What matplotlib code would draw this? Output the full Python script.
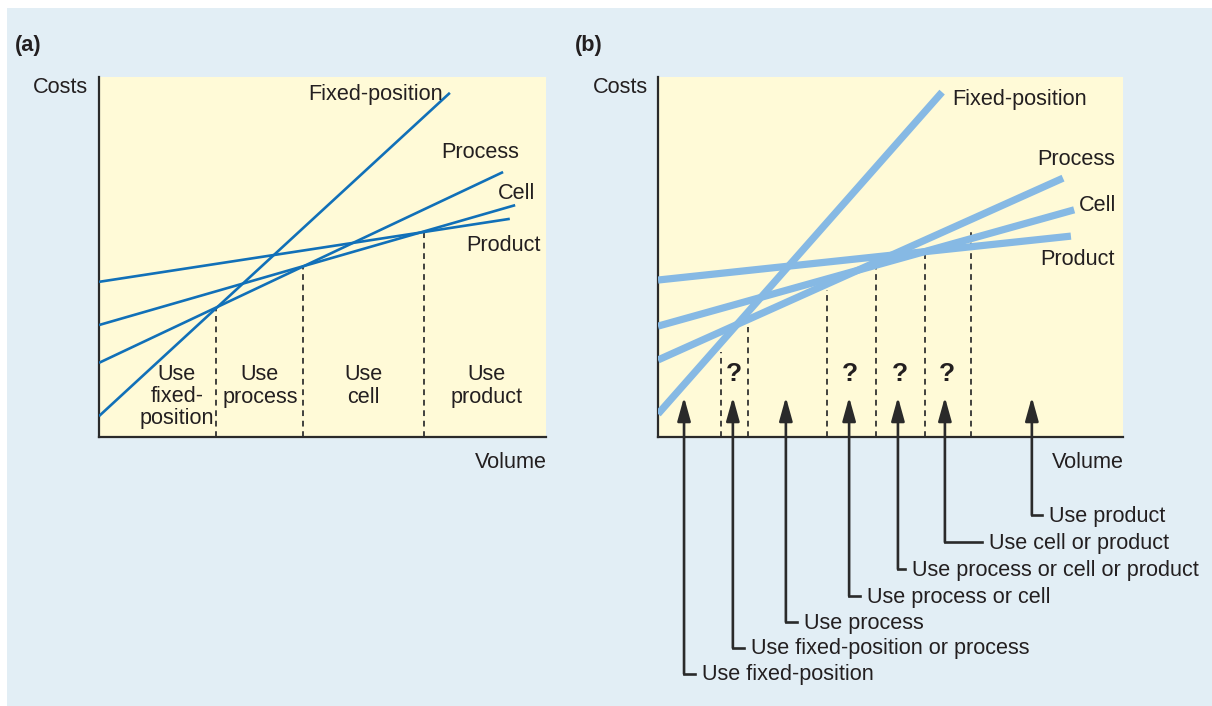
import matplotlib
matplotlib.use("Agg")
import matplotlib.pyplot as plt
from matplotlib.patches import Rectangle

plt.rcParams['font.family'] = ['Liberation Sans', 'DejaVu Sans']

# ---------------- data (volume 0-100, cost 0-100) ----------------
line_names = ["Fixed-position", "Process", "Cell", "Product"]

# panel (a): straight cost lines, start/end points
a_x0 = [0, 0, 0, 0]
a_y0 = [5.8, 20.6, 31.1, 43.1]
a_x1 = [78.5, 90.4, 93.1, 91.9]
a_y1 = [95.6, 73.6, 64.4, 60.6]
a_label_x = [77.0, 76.5, 89.3, 82.1]
a_label_y = [95.2, 79.1, 67.7, 53.3]
a_label_ha = ["right", "left", "left", "left"]

a_cut_x = [26.2, 45.6, 72.7]
a_cut_top = [35.8, 47.8, 57.2]

a_regions = ["Use\nfixed-\nposition", "Use\nprocess", "Use\ncell", "Use\nproduct"]
a_region_x = [17.4, 36.0, 59.1, 86.8]
a_region_y = [11.2, 14.2, 14.2, 14.2]

# panel (b)
b_x0 = [0, 0, 0, 0]
b_y0 = [6.4, 21.4, 30.8, 43.6]
b_x1 = [61.1, 87.1, 89.5, 88.8]
b_y1 = [95.8, 71.9, 63.1, 55.8]
b_label_x = [63.2, 81.5, 90.5, 82.2]
b_label_y = [93.8, 77.2, 64.4, 49.4]

b_cut_x = [13.5, 19.4, 36.3, 46.9, 57.4, 67.3]
b_cut_top = [23.6, 30.6, 40.8, 46.9, 50.6, 58.1]

q_x = [16.3, 41.3, 52.0, 62.2]
q_y = 17.6

choices = ["Use fixed-position", "Use fixed-position or process", "Use process",
           "Use process or cell", "Use process or cell or product",
           "Use cell or product", "Use product"]
arrow_x = [5.6, 16.1, 27.5, 41.1, 51.6, 61.7, 80.4]
arrow_tip = 11.1
choice_y = [-65.8, -58.6, -51.4, -44.2, -36.7, -29.2, -21.7]
choice_seg_end = [8.0, 18.5, 29.9, 43.4, 53.1, 69.7, 82.6]

# ---------------- style ----------------
W, H = 1212, 706
BG = '#e2eef5'
PANEL = '#fffad7'
TXT = '#231f20'
DARK = '#2a2a2a'
LINE_A = '#1170b8'
LINE_B = '#86b9e4'
FS = 15.6

fig = plt.figure(figsize=(W / 100, H / 100), dpi=100)
fig.patch.set_facecolor('white')
fig.add_artist(Rectangle((7 / W, 0), 1 - 7 / W, 1 - 8 / H, transform=fig.transFigure,
                         facecolor=BG, edgecolor='none', zorder=-10))


def make_ax(left_px, width_px):
    ax = fig.add_axes([left_px / W, (H - 437) / H, width_px / W, 360 / H])
    ax.set_xlim(0, 100)
    ax.set_ylim(0, 100)
    ax.set_facecolor(PANEL)
    for s in ['top', 'right']:
        ax.spines[s].set_visible(False)
    for s in ['left', 'bottom']:
        ax.spines[s].set_color(DARK)
        ax.spines[s].set_linewidth(1.6)
    ax.set_xticks([])
    ax.set_yticks([])
    return ax


axa = make_ax(99, 447)
axb = make_ax(658, 465)

dash = (0, (3.2, 2.6))
DASHC = '#333333'

# ---- panel (a)
for i in range(4):
    axa.plot([a_x0[i], a_x1[i]], [a_y0[i], a_y1[i]], color=LINE_A, lw=1.9,
             solid_capstyle='butt', zorder=3)
    axa.text(a_label_x[i], a_label_y[i], line_names[i], ha=a_label_ha[i], va='center',
             fontsize=FS, color=TXT, zorder=4)
for x, t in zip(a_cut_x, a_cut_top):
    axa.plot([x, x], [0, t], color=DASHC, lw=1.3, linestyle=dash, zorder=2)
for lab, x, y in zip(a_regions, a_region_x, a_region_y):
    axa.text(x, y, lab, ha='center', va='center', fontsize=FS, color=TXT,
             linespacing=1.08, zorder=4)
axa.text(-2.5, 97.2, "Costs", ha='right', va='center', fontsize=FS, color=TXT,
         clip_on=False)
axa.text(100.3, -7.0, "Volume", ha='right', va='center', fontsize=FS, color=TXT,
         clip_on=False)

# ---- panel (b)
for i in range(4):
    axb.plot([b_x0[i], b_x1[i]], [b_y0[i], b_y1[i]], color=LINE_B, lw=5.2,
             solid_capstyle='butt', zorder=3)
    axb.text(b_label_x[i], b_label_y[i], line_names[i], ha='left', va='center',
             fontsize=FS, color=TXT, zorder=4)
for x, t in zip(b_cut_x, b_cut_top):
    axb.plot([x, x], [0, t], color=DASHC, lw=1.3, linestyle=dash, zorder=2)
for x in q_x:
    axb.text(x, q_y, "?", ha='center', va='center', fontsize=19, fontweight='bold',
             color=TXT, zorder=4)
axb.text(-2.2, 97.2, "Costs", ha='right', va='center', fontsize=FS, color=TXT,
         clip_on=False)
axb.text(100.3, -7.0, "Volume", ha='right', va='center', fontsize=FS, color=TXT,
         clip_on=False)

for lab, x, y, xe in zip(choices, arrow_x, choice_y, choice_seg_end):
    axb.annotate('', xy=(x, arrow_tip), xytext=(x, y),
                 arrowprops=dict(arrowstyle='-|>,head_length=0.72,head_width=0.2',
                                 mutation_scale=20, lw=1.9, color=DARK,
                                 shrinkA=0, shrinkB=0),
                 annotation_clip=False, zorder=5)
    axb.plot([x, xe], [y, y], color=DARK, lw=1.9, solid_capstyle='projecting',
             clip_on=False, zorder=5)
    axb.annotate(lab, xy=(xe, y), xytext=(7, -1), textcoords='offset pixels',
                 ha='left', va='center', fontsize=FS, color=TXT,
                 annotation_clip=False)

fig.text(15 / W, 1 - 46 / H, "(a)", ha='left', va='center', fontsize=FS,
         fontweight='bold', color=TXT)
fig.text(575 / W, 1 - 46 / H, "(b)", ha='left', va='center', fontsize=FS,
         fontweight='bold', color=TXT)

fig.savefig("out.png", dpi=100, facecolor=fig.get_facecolor())
